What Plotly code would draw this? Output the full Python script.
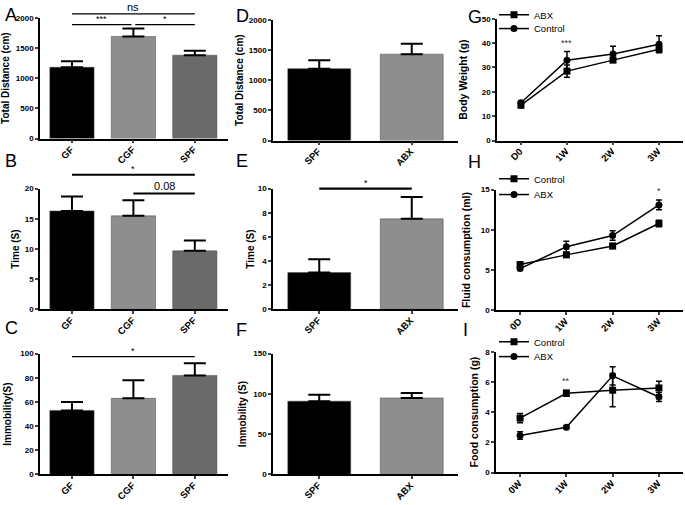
import plotly.graph_objects as go

W, H = 685, 505

# bar panels A-C
groups3 = ['GF', 'CGF', 'SPF']
colors3 = ['#000000', '#8e8e8e', '#6a6a6a']
dist_a = [1180, 1690, 1380]
dist_a_err = [100, 130, 75]
time_b = [16.3, 15.5, 9.7]
time_b_err = [2.4, 2.6, 1.7]
immob_c = [53, 63, 82]
immob_c_err = [7, 15, 10]

# bar panels D-F
groups2 = ['SPF', 'ABX']
colors2 = ['#000000', '#8e8e8e']
dist_d = [1190, 1430]
dist_d_err = [140, 170]
time_e = [3.05, 7.5]
time_e_err = [1.1, 1.8]
immob_f = [91, 95]
immob_f_err = [8, 6]

# line panels G-I
weeks_g = ['D0', '1W', '2W', '3W']
bw_abx = [14.5, 28.5, 33.0, 37.5]
bw_abx_err = [1.0, 2.5, 0.8, 0.8]
bw_ctrl = [15.5, 33.0, 35.5, 39.5]
bw_ctrl_err = [0.8, 3.5, 3.2, 3.5]

weeks_h = ['0D', '1W', '2W', '3W']
fluid_ctrl = [5.7, 6.9, 8.0, 10.8]
fluid_ctrl_err = [0.2, 0.3, 0.3, 0.4]
fluid_abx = [5.2, 7.9, 9.3, 13.1]
fluid_abx_err = [0.2, 0.7, 0.6, 0.6]

weeks_i = ['0W', '1W', '2W', '3W']
food_ctrl = [3.6, 5.25, 5.45, 5.6]
food_ctrl_err = [0.3, 0.2, 1.1, 0.45]
food_abx = [2.45, 3.0, 6.4, 5.0]
food_abx_err = [0.25, 0.1, 0.6, 0.3]

FONT = 'Liberation Sans, Arial, sans-serif'

# panel boxes in pixels: (left, right, top, bottom); so = title standoff
panels = {
    'A': dict(ax='', box=(40, 228, 14, 137), yr=[0, 2000], dt=500, title='Total Distance (cm)', n=3, so=6, ts=10),
    'B': dict(ax='2', box=(40, 228, 188, 311), yr=[0, 20], dt=5, title='Time (S)', n=3, so=3, ts=10),
    'C': dict(ax='3', box=(40, 228, 356, 479), yr=[0, 100], dt=20, title='Immobility(S)', n=3, so=7, ts=10),
    'D': dict(ax='4', box=(273, 458, 16, 139), yr=[0, 2000], dt=500, title='Total Distance (cm)', n=2, so=3, ts=10),
    'E': dict(ax='5', box=(273, 458, 188, 311), yr=[0, 10], dt=2, title='Time (S)', n=2, so=1, ts=10),
    'F': dict(ax='6', box=(273, 458, 356, 479), yr=[0, 150], dt=50, title='Immobility (S)', n=2, so=5, ts=10),
    'G': dict(ax='7', box=(497, 683, 15, 139), yr=[0, 50], dt=10, title='Body Weight (g)', n=4, so=12, ts=10.5),
    'H': dict(ax='8', box=(496, 683, 189, 312), yr=[0, 15], dt=5, title='Fluid consumption (ml)', n=4, so=8, ts=10.5),
    'I': dict(ax='9', box=(496, 683, 354, 477), yr=[0, 8], dt=2, title='Food consumption (g)', n=4, so=5, ts=10.5),
}


def ypaper(p, v):
    l, r, t, b = panels[p]['box']
    d0, d1 = 1 - b / H, 1 - t / H
    r0, r1 = panels[p]['yr']
    return d0 + (v - r0) / (r1 - r0) * (d1 - d0)


fig = go.Figure()


def add_bars(p, cats, vals, errs, cols, width):
    a = panels[p]['ax']
    fig.add_trace(go.Bar(
        x=cats, y=vals, marker=dict(color=cols, line=dict(color='#444', width=0.5)),
        width=width, showlegend=False, xaxis='x' + a, yaxis='y' + a,
        error_y=dict(type='data', symmetric=False, array=errs, arrayminus=[0] * len(errs),
                     color='black', thickness=2, width=11)))


add_bars('A', groups3, dist_a, dist_a_err, colors3, 0.72)
add_bars('B', groups3, time_b, time_b_err, colors3, 0.72)
add_bars('C', groups3, immob_c, immob_c_err, colors3, 0.72)
add_bars('D', groups2, dist_d, dist_d_err, colors2, 0.68)
add_bars('E', groups2, time_e, time_e_err, colors2, 0.68)
add_bars('F', groups2, immob_f, immob_f_err, colors2, 0.68)


def add_line(p, cats, vals, errs, name, symbol, legend):
    a = panels[p]['ax']
    fig.add_trace(go.Scatter(
        x=cats, y=vals, name=name, mode='lines+markers', legend=legend,
        line=dict(color='black', width=1.5),
        marker=dict(symbol=symbol, size=7, color='black'),
        xaxis='x' + a, yaxis='y' + a, cliponaxis=False,
        error_y=dict(type='data', array=errs, color='black', thickness=1.5, width=3)))


add_line('G', weeks_g, bw_abx, bw_abx_err, 'ABX', 'square', 'legend')
add_line('G', weeks_g, bw_ctrl, bw_ctrl_err, 'Control', 'circle', 'legend2')
add_line('H', weeks_h, fluid_ctrl, fluid_ctrl_err, 'Control', 'square', 'legend3')
add_line('H', weeks_h, fluid_abx, fluid_abx_err, 'ABX', 'circle', 'legend4')
add_line('I', weeks_i, food_ctrl, food_ctrl_err, 'Control', 'square', 'legend5')
add_line('I', weeks_i, food_abx, food_abx_err, 'ABX', 'circle', 'legend6')

layout = dict(
    width=W, height=H, margin=dict(l=0, r=0, t=0, b=0),
    paper_bgcolor='white', plot_bgcolor='white',
    font=dict(family=FONT, color='black'),
)

for p, cfg in panels.items():
    a = cfg['ax']
    l, r, t, b = cfg['box']
    n = cfg['n']
    half = 0.52 if n != 2 else 0.5
    layout['xaxis' + a] = dict(
        domain=[l / W, r / W], anchor='y' + a, type='category',
        range=[-half, n - 1 + half + (0.02 if n == 3 else 0)],
        showline=True, linecolor='black', linewidth=1.5, showgrid=False, zeroline=False,
        ticks='outside', ticklen=3, tickwidth=1.5, tickangle=-45,
        ticklabelstandoff=-3, ticklabelshift=-1,
        tickfont=dict(size=9.5, weight='bold'), fixedrange=True)
    layout['yaxis' + a] = dict(
        domain=[1 - b / H, 1 - t / H], anchor='x' + a, range=cfg['yr'], dtick=cfg['dt'],
        showline=True, linecolor='black', linewidth=1.5, showgrid=False, zeroline=False,
        ticks='outside', ticklen=3, tickwidth=1.5,
        tickfont=dict(size=8, weight='bold'),
        title=dict(text=cfg['title'], font=dict(size=cfg['ts'], weight='bold'), standoff=cfg['so']),
        fixedrange=True)

# one legend per entry so the rows sit as tight as in the reference
legend_rows = {'legend': 11, 'legend2': 25, 'legend3': 178, 'legend4': 194,
               'legend5': 344, 'legend6': 359}
for lg, py in legend_rows.items():
    layout[lg] = dict(x=494 / W, y=1 - py / H, xanchor='left', yanchor='middle',
                      font=dict(size=9.5), bgcolor='rgba(0,0,0,0)', itemwidth=30)

fig.update_layout(**layout)

# panel letters (visual centres)
letters = {'A': (3, 14), 'B': (3, 163), 'C': (3, 333), 'D': (234, 15), 'E': (234, 163),
           'F': (234, 335), 'G': (466, 16), 'H': (466, 164), 'I': (461, 335)}
for k, (px, py) in letters.items():
    fig.add_annotation(text=k, x=px / W, y=1 - (py - 3) / H, xref='paper', yref='paper',
                       xanchor='left', yanchor='middle', showarrow=False,
                       font=dict(size=18, family=FONT))


def sig(p, x0, x1, yv, label, lsize=10, lw=1.2, ly=None):
    a = panels[p]['ax']
    yp = ypaper(p, yv)
    fig.add_shape(type='line', xref='x' + a, yref='paper', x0=x0, x1=x1, y0=yp, y1=yp,
                  line=dict(color='black', width=lw))
    if label:
        fig.add_annotation(text=label, xref='x' + a, yref='paper', x=(x0 + x1) / 2,
                           y=ypaper(p, ly) if ly is not None else yp, yanchor='bottom',
                           showarrow=False, font=dict(size=lsize, family=FONT), yshift=-1)


# A
sig('A', 0, 2, 2065, 'ns', lsize=11)
sig('A', 0, 0.97, 1886, '***', lsize=9)
sig('A', 1.03, 2, 1886, '*', lsize=9)
# B
sig('B', 0, 2, 22.3, '*', lsize=9, lw=2.2)
sig('B', 1, 2, 19.2, '0.08', lsize=11, lw=2.2)
# C
sig('C', 0, 2, 97.6, '*', lsize=9)
# E
sig('E', 0, 1, 10.0, '*', lsize=9, lw=2.2)

# stars on line charts
for p, cat, yv, txt in [('G', '1W', 37.0, '***'), ('H', '3W', 13.9, '*'), ('I', '1W', 5.6, '**')]:
    a = panels[p]['ax']
    fig.add_annotation(text=txt, x=cat, y=yv, xref='x' + a, yref='y' + a, yanchor='bottom',
                       showarrow=False, font=dict(size=9, family=FONT, color='#333'))

fig.write_html("out.html", config={'displayModeBar': False},
               post_script="document.body.style.margin='0';")
